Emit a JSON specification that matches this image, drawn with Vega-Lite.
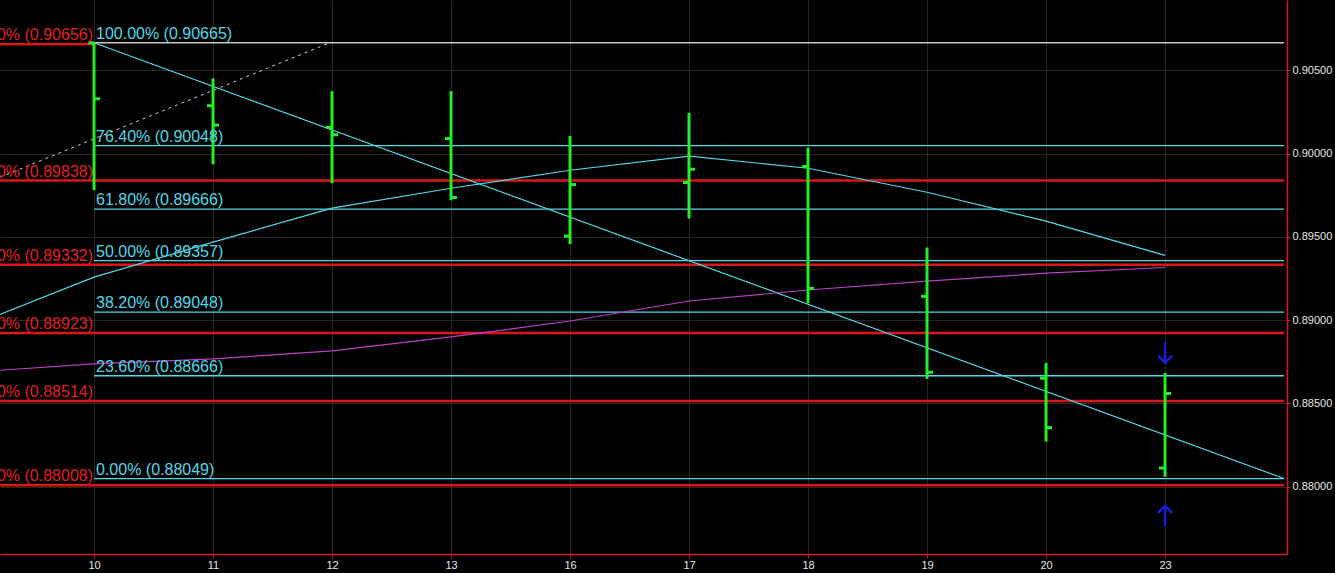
{
  "$schema": "https://vega.github.io/schema/vega-lite/v6.json",
  "width": 1287,
  "height": 554,
  "autosize": {"type": "none"},
  "padding": {"left": 0, "top": 0, "right": 48, "bottom": 19},
  "background": "#000000",
  "config": {"view": {"stroke": null}, "font": "Liberation Sans"},
  "encoding": {
    "x": {
      "field": "i", "type": "quantitative",
      "scale": {"domain": [-0.79, 10.025], "nice": false, "zero": false},
      "axis": {
        "values": [0, 1, 2, 3, 4, 5, 6, 7, 8, 9],
        "labelExpr": "['10','11','12','13','16','17','18','19','20','23'][datum.value]",
        "title": null, "grid": true, "gridColor": "#262626", "gridWidth": 1,
        "domainColor": "#d81818", "domainWidth": 1.5, "tickColor": "#d81818", "tickSize": 4,
        "labelColor": "#e6e6e6", "labelFontSize": 11, "labelPadding": 1,
        "labelFlush": false, "labelOverlap": false, "labelFont": "Liberation Sans"
      }
    },
    "y": {
      "field": "p", "type": "quantitative",
      "scale": {"domain": [0.87596, 0.90922], "nice": false, "zero": false},
      "axis": {
        "orient": "right",
        "values": [0.88, 0.885, 0.89, 0.895, 0.9, 0.905],
        "format": ".5f", "title": null, "grid": true, "gridColor": "#262626", "gridWidth": 1,
        "domainColor": "#d81818", "domainWidth": 1.5, "tickColor": "#d81818", "tickSize": 3,
        "labelColor": "#e6e6e6", "labelFontSize": 11, "labelPadding": 2,
        "labelFlush": false, "labelOverlap": false, "labelFont": "Liberation Sans"
      }
    }
  },
  "layer": [
    {
      "data": {"values": [
        {"i": -0.79, "i2": 0, "p": 0.90656},
        {"i": -0.79, "i2": 10, "p": 0.89838},
        {"i": -0.79, "i2": 10, "p": 0.89332},
        {"i": -0.79, "i2": 10, "p": 0.88923},
        {"i": -0.79, "i2": 10, "p": 0.88514},
        {"i": -0.79, "i2": 10, "p": 0.88008}
      ]},
      "mark": {"type": "rule", "color": "#dc1616", "strokeWidth": 2.5, "clip": true},
      "encoding": {"x2": {"field": "i2"}}
    },
    {
      "data": {"values": [{"i": 0, "i2": 10, "p": 0.90665}]},
      "mark": {"type": "rule", "color": "#c8c8c8", "strokeWidth": 1.5},
      "encoding": {"x2": {"field": "i2"}}
    },
    {
      "data": {"values": [
        {"i": 0, "i2": 10, "p": 0.90048},
        {"i": 0, "i2": 10, "p": 0.89666},
        {"i": 0, "i2": 10, "p": 0.89357},
        {"i": 0, "i2": 10, "p": 0.89048},
        {"i": 0, "i2": 10, "p": 0.88666},
        {"i": 0, "i2": 10, "p": 0.88049}
      ]},
      "mark": {"type": "rule", "color": "#50d8e8", "strokeWidth": 1.3},
      "encoding": {"x2": {"field": "i2"}}
    },
    {
      "data": {"values": [{"i": 0, "p": 0.90665}, {"i": 10, "p": 0.88049}]},
      "mark": {"type": "line", "color": "#50d8e8", "strokeWidth": 1.2}
    },
    {
      "data": {"values": [{"i": -0.79, "p": 0.89858}, {"i": 1.98, "p": 0.90665}]},
      "mark": {"type": "line", "color": "#d0d0d0", "strokeWidth": 1, "strokeDash": [3, 4], "clip": true}
    },
    {
      "data": {"values": [
        {"i": -1, "p": 0.88975}, {"i": 0, "p": 0.89258}, {"i": 1, "p": 0.89468},
        {"i": 2, "p": 0.89672}, {"i": 3, "p": 0.89792}, {"i": 4, "p": 0.89900},
        {"i": 5, "p": 0.89985}, {"i": 6, "p": 0.89912}, {"i": 7, "p": 0.89768},
        {"i": 8, "p": 0.89594}, {"i": 9, "p": 0.89389}
      ]},
      "mark": {"type": "line", "color": "#50d8e8", "strokeWidth": 1.2, "clip": true}
    },
    {
      "data": {"values": [
        {"i": -1, "p": 0.88689}, {"i": 0, "p": 0.88737}, {"i": 1, "p": 0.88767},
        {"i": 2, "p": 0.88815}, {"i": 3, "p": 0.88899}, {"i": 4, "p": 0.88995},
        {"i": 5, "p": 0.89115}, {"i": 6, "p": 0.89181}, {"i": 7, "p": 0.89234},
        {"i": 8, "p": 0.89282}, {"i": 9, "p": 0.89316}
      ]},
      "mark": {"type": "line", "color": "#c03cc8", "strokeWidth": 1.2, "clip": true}
    },
    {
      "data": {"name": "ohlc", "values": [
        {"i": 0, "op": 0.90665, "hi": 0.90665, "lo": 0.89780, "cl": 0.90329},
        {"i": 1, "op": 0.90287, "hi": 0.90451, "lo": 0.89936, "cl": 0.90171},
        {"i": 2, "op": 0.90157, "hi": 0.90375, "lo": 0.89822, "cl": 0.90113},
        {"i": 3, "op": 0.90090, "hi": 0.90375, "lo": 0.89720, "cl": 0.89736},
        {"i": 4, "op": 0.89504, "hi": 0.90105, "lo": 0.89456, "cl": 0.89814},
        {"i": 5, "op": 0.89826, "hi": 0.90245, "lo": 0.89610, "cl": 0.89906},
        {"i": 6, "op": 0.89922, "hi": 0.90036, "lo": 0.89103, "cl": 0.89191},
        {"i": 7, "op": 0.89143, "hi": 0.89436, "lo": 0.88647, "cl": 0.88687},
        {"i": 8, "op": 0.88651, "hi": 0.88743, "lo": 0.88271, "cl": 0.88355},
        {"i": 9, "op": 0.88112, "hi": 0.88683, "lo": 0.88060, "cl": 0.88560}
      ]},
      "layer": [
        {
          "mark": {"type": "rule", "color": "#22f022", "strokeWidth": 3},
          "encoding": {
            "y": {"field": "lo", "type": "quantitative", "scale": {"domain": [0.87596, 0.90922], "nice": false, "zero": false}},
            "y2": {"field": "hi"}
          }
        },
        {
          "mark": {"type": "rule", "color": "#22f022", "strokeWidth": 3, "x2Offset": -6},
          "encoding": {
            "y": {"field": "op", "type": "quantitative", "scale": {"domain": [0.87596, 0.90922], "nice": false, "zero": false}},
            "x2": {"field": "i"}
          }
        },
        {
          "mark": {"type": "rule", "color": "#22f022", "strokeWidth": 3, "x2Offset": 6},
          "encoding": {
            "y": {"field": "cl", "type": "quantitative", "scale": {"domain": [0.87596, 0.90922], "nice": false, "zero": false}},
            "x2": {"field": "i"}
          }
        }
      ]
    },
    {
      "data": {"values": [{"i": 9, "p": 0.88806}]},
      "mark": {"type": "point", "shape": "M0,-1L0,1M-0.7,0.3L0,1L0.7,0.3", "size": 420, "filled": false, "stroke": "#1c1cd8", "strokeWidth": 2.5, "opacity": 1}
    },
    {
      "data": {"values": [{"i": 9, "p": 0.87824}]},
      "mark": {"type": "point", "shape": "M0,1L0,-1M-0.7,-0.3L0,-1L0.7,-0.3", "size": 420, "filled": false, "stroke": "#1c1cd8", "strokeWidth": 2.5, "opacity": 1}
    },
    {
      "data": {"values": [
        {"i": 0, "p": 0.90665, "t": "100.00% (0.90665)"},
        {"i": 0, "p": 0.90048, "t": "76.40% (0.90048)"},
        {"i": 0, "p": 0.89666, "t": "61.80% (0.89666)"},
        {"i": 0, "p": 0.89357, "t": "50.00% (0.89357)"},
        {"i": 0, "p": 0.89048, "t": "38.20% (0.89048)"},
        {"i": 0, "p": 0.88666, "t": "23.60% (0.88666)"},
        {"i": 0, "p": 0.88049, "t": "0.00% (0.88049)"}
      ]},
      "mark": {"type": "text", "align": "left", "baseline": "alphabetic", "dx": 2, "dy": -4, "fontSize": 16, "color": "#50d8e8", "font": "Liberation Sans"},
      "encoding": {"text": {"field": "t"}}
    },
    {
      "data": {"values": [
        {"i": 0, "p": 0.90656, "t": "0.00% (0.90656)"},
        {"i": 0, "p": 0.89838, "t": "23.60% (0.89838)"},
        {"i": 0, "p": 0.89332, "t": "38.20% (0.89332)"},
        {"i": 0, "p": 0.88923, "t": "50.00% (0.88923)"},
        {"i": 0, "p": 0.88514, "t": "61.80% (0.88514)"},
        {"i": 0, "p": 0.88008, "t": "76.40% (0.88008)"}
      ]},
      "mark": {"type": "text", "align": "right", "baseline": "alphabetic", "dx": -1, "dy": -4, "fontSize": 16, "color": "#e02020", "font": "Liberation Sans", "clip": true},
      "encoding": {"text": {"field": "t"}}
    },
    {
      "data": {"values": [{"p": 0.89389, "t": "0.89389"}]},
      "layer": [
        {"mark": {"type": "rect", "width": 47, "height": 12.5, "color": "#33e6f0"},
         "encoding": {"x": {"datum": 10.231, "type": "quantitative"}}},
        {"mark": {"type": "text", "align": "left", "baseline": "middle", "fontSize": 10.5, "color": "#000000", "font": "Liberation Sans"},
         "encoding": {"x": {"datum": 10.075, "type": "quantitative"}, "text": {"field": "t"}}}
      ]
    },
    {
      "data": {"values": [{"p": 0.89316, "t": "0.89316"}]},
      "layer": [
        {"mark": {"type": "rect", "width": 47, "height": 12.5, "color": "#ff14ff"},
         "encoding": {"x": {"datum": 10.231, "type": "quantitative"}}},
        {"mark": {"type": "text", "align": "left", "baseline": "middle", "fontSize": 10.5, "color": "#000000", "font": "Liberation Sans"},
         "encoding": {"x": {"datum": 10.075, "type": "quantitative"}, "text": {"field": "t"}}}
      ]
    },
    {
      "data": {"values": [{"p": 0.88560, "t": "0.88560"}]},
      "layer": [
        {"mark": {"type": "rect", "width": 47, "height": 12.5, "color": "#22f022"},
         "encoding": {"x": {"datum": 10.231, "type": "quantitative"}}},
        {"mark": {"type": "text", "align": "left", "baseline": "middle", "fontSize": 10.5, "color": "#000000", "font": "Liberation Sans"},
         "encoding": {"x": {"datum": 10.075, "type": "quantitative"}, "text": {"field": "t"}}}
      ]
    }
  ]
}
